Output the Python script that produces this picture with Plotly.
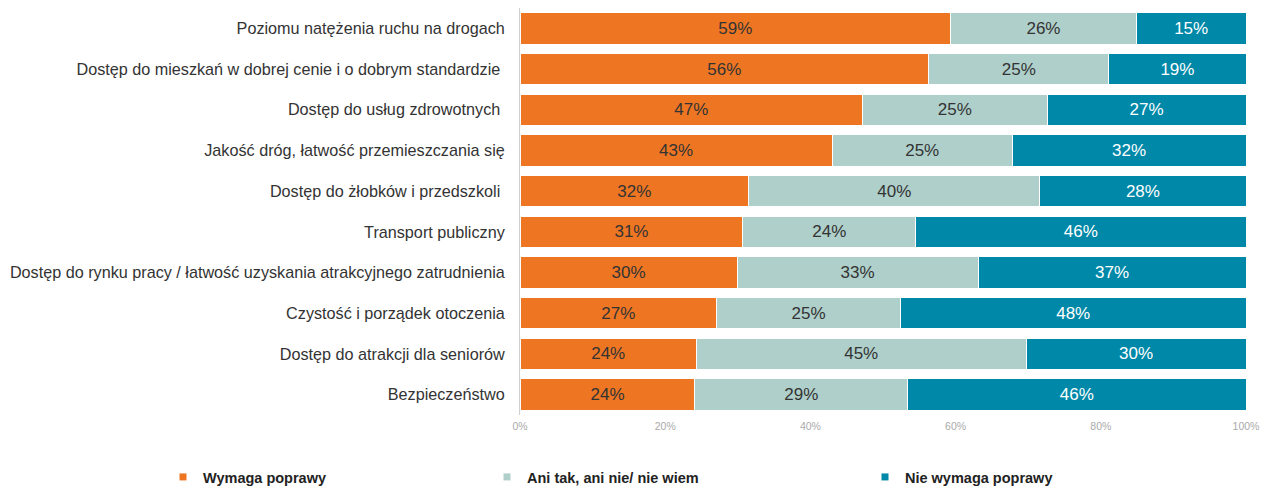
import plotly.graph_objects as go

categories = [
    "Poziomu natężenia ruchu na drogach",
    "Dostęp do mieszkań w dobrej cenie i o dobrym standardzie ",
    "Dostęp do usług zdrowotnych ",
    "Jakość dróg, łatwość przemieszczania się",
    "Dostęp do żłobków i przedszkoli ",
    "Transport publiczny",
    "Dostęp do rynku pracy / łatwość uzyskania atrakcyjnego zatrudnienia",
    "Czystość i porządek otoczenia",
    "Dostęp do atrakcji dla seniorów",
    "Bezpieczeństwo",
]

series_names = ["Wymaga poprawy", "Ani tak, ani nie/ nie wiem", "Nie wymaga poprawy"]

wymaga = [59.3, 56.3, 47.2, 43.0, 31.5, 30.7, 29.9, 27.1, 24.3, 24.1]
ani = [25.6, 24.8, 25.4, 24.8, 40.1, 23.8, 33.2, 25.3, 45.4, 29.3]
nie = [15.1, 18.9, 27.4, 32.2, 28.4, 45.5, 36.9, 47.6, 30.3, 46.6]

wymaga_labels = ["59%", "56%", "47%", "43%", "32%", "31%", "30%", "27%", "24%", "24%"]
ani_labels = ["26%", "25%", "25%", "25%", "40%", "24%", "33%", "25%", "45%", "29%"]
nie_labels = ["15%", "19%", "27%", "32%", "28%", "46%", "37%", "48%", "30%", "46%"]

tick_vals = [0, 20, 40, 60, 80, 100]
tick_text = ["0%", "20%", "40%", "60%", "80%", "100%"]

colors = ["#EE7623", "#AECFCA", "#0088A8"]
text_colors = ["#333333", "#333333", "#FFFFFF"]

FONT = "Liberation Sans, Arial, sans-serif"

fig = go.Figure()
data = [wymaga, ani, nie]
labels = [wymaga_labels, ani_labels, nie_labels]
legends = ["legend", "legend2", "legend3"]

for i in range(3):
    fig.add_trace(go.Bar(
        y=categories, x=data[i], orientation="h",
        name=series_names[i],
        marker=dict(color=colors[i], line=dict(color="white", width=1)),
        text=labels[i], textposition="inside", insidetextanchor="middle",
        textangle=0, constraintext="none",
        textfont=dict(family=FONT, size=17, color=text_colors[i]),
        showlegend=False, hoverinfo="skip",
    ))
    fig.add_trace(go.Scatter(
        x=[None], y=[None], mode="markers", name=series_names[i],
        marker=dict(symbol="square", size=7, color=colors[i]),
        legend=legends[i], showlegend=True,
    ))

W, H = 1270, 488
L, R, T, B = 512, 32, 0, 81

leg_common = dict(orientation="h", yanchor="middle", xanchor="left",
                  xref="container", yref="container",
                  font=dict(family=FONT, size=14.5, color="#222222", weight="bold"),
                  bgcolor="rgba(0,0,0,0)", borderwidth=0, itemwidth=30)

leg_y = (H - 469) / H

fig.update_layout(
    width=W, height=H,
    margin=dict(l=L, r=R, t=T, b=B, autoexpand=False),
    plot_bgcolor="white", paper_bgcolor="white",
    barmode="stack", bargap=0.228,
    font=dict(family=FONT),
    xaxis=dict(range=[0, 100], tickvals=tick_vals, ticktext=tick_text,
               showgrid=False, zeroline=False, showline=False,
               tickfont=dict(family=FONT, size=10.5, color="#AAAAAA"),
               ticks="", ticklabelstandoff=3, fixedrange=True),
    yaxis=dict(categoryorder="array", categoryarray=categories[::-1],
               showgrid=False, zeroline=False, showline=True,
               linecolor="#D0D0D0", linewidth=1, ticks="",
               ticklabelstandoff=11,
               tickfont=dict(family=FONT, size=16.2, color="#333333")),
    legend=dict(x=155 / W, y=leg_y, **leg_common),
    legend2=dict(x=479 / W, y=leg_y, **leg_common),
    legend3=dict(x=857 / W, y=leg_y, **leg_common),
)

fig.write_html("out.html")
